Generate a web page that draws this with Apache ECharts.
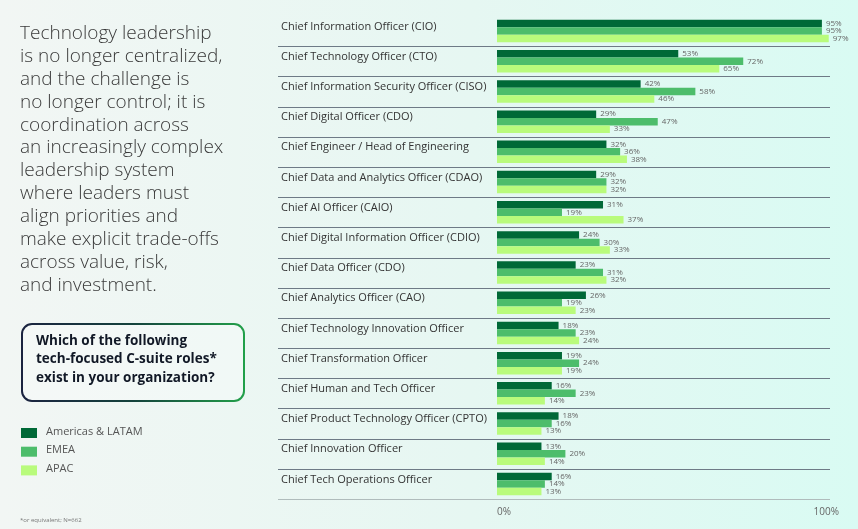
<!DOCTYPE html>
<html lang="en">
<head>
<meta charset="UTF-8">
<script src="https://cdn.jsdelivr.net/npm/echarts@6/dist/echarts.min.js"></script>
<title>Tech C-suite roles</title>
<style>
  html, body { margin: 0; padding: 0; }
  #main { width: 858px; height: 529px; }
</style>
</head>
<body>
<div id="main"></div>
<script>
var roles = [
  'Chief Information Officer (CIO)',
  'Chief Technology Officer (CTO)',
  'Chief Information Security Officer (CISO)',
  'Chief Digital Officer (CDO)',
  'Chief Engineer / Head of Engineering',
  'Chief Data and Analytics Officer (CDAO)',
  'Chief AI Officer (CAIO)',
  'Chief Digital Information Officer (CDIO)',
  'Chief Data Officer (CDO)',
  'Chief Analytics Officer (CAO)',
  'Chief Technology Innovation Officer',
  'Chief Transformation Officer',
  'Chief Human and Tech Officer',
  'Chief Product Technology Officer (CPTO)',
  'Chief Innovation Officer',
  'Chief Tech Operations Officer'
];
var americas = [95, 53, 42, 29, 32, 29, 31, 24, 23, 26, 18, 19, 16, 18, 13, 16];
var emea     = [95, 72, 58, 47, 36, 32, 19, 30, 31, 19, 23, 24, 23, 16, 20, 14];
var apac     = [97, 65, 46, 33, 38, 32, 37, 33, 32, 23, 24, 19, 14, 13, 14, 13];
var seriesNames = ['Americas & LATAM', 'EMEA', 'APAC'];
var colors = ['#006937', '#4dbd6b', '#b9fb7c'];

var introLines = [
  'Technology leadership', 'is no longer centralized,', 'and the challenge is',
  'no longer control; it is', 'coordination across', 'an increasingly complex',
  'leadership system', 'where leaders must', 'align priorities and',
  'make explicit trade-offs', 'across value, risk,', 'and investment.'
];

var chart = echarts.init(document.getElementById('main'));
var font = '"Open Sans", "Noto Sans", sans-serif';

function seriesOf(i, data) {
  return {
    name: seriesNames[i], type: 'bar', data: data,
    barWidth: 7.5, barGap: '0%',
    itemStyle: { color: colors[i] },
    label: { show: true, position: 'right', distance: 4, formatter: '{c}%',
      fontSize: 8, color: '#666', fontFamily: font }
  };
}

var graphics = [];
introLines.forEach(function (t, i) {
  graphics.push({ type: 'text', left: 20, top: 24 + i * 22.9,
    style: { text: t, fontSize: 19, fill: '#3a3a3a', fontFamily: font, fontWeight: 300 } });
});
graphics.push({ type: 'rect', left: 21, top: 323,
  shape: { width: 222, height: 77, r: 10 },
  style: { fill: 'rgba(255,255,255,0.25)', lineWidth: 2,
    stroke: new echarts.graphic.LinearGradient(0, 0, 1, 0, [
      { offset: 0, color: '#1b2340' }, { offset: 0.5, color: '#14423c' }, { offset: 1, color: '#22a04a' }]) } });
['Which of the following', 'tech-focused C-suite roles*', 'exist in your organization?'].forEach(function (t, i) {
  graphics.push({ type: 'text', left: 36, top: 334 + i * 18.5,
    style: { text: t, fontSize: 13.5, fontWeight: 'bold', fill: '#111826', fontFamily: font } });
});
seriesNames.forEach(function (n, i) {
  graphics.push({ type: 'rect', left: 21, top: 428 + i * 18.7, shape: { width: 16, height: 10 },
    style: { fill: colors[i] } });
  graphics.push({ type: 'text', left: 46, top: 426 + i * 18.7,
    style: { text: n, fontSize: 11, fill: '#555', fontFamily: font } });
});
graphics.push({ type: 'text', left: 20, top: 517,
  style: { text: '*or equivalent; N=662', fontSize: 6, fill: '#777', fontFamily: font } });

chart.setOption({
  backgroundColor: new echarts.graphic.LinearGradient(0, 0, 1, 0, [
    { offset: 0, color: '#f2f6f4' }, { offset: 0.55, color: '#e6f7f2' }, { offset: 1, color: '#d9fbf3' }]),
  textStyle: { fontFamily: font },
  animation: false,
  grid: { left: 497, right: 19, top: 16, bottom: 30 },
  xAxis: {
    type: 'value', min: 0, max: 100, interval: 100,
    axisLabel: { formatter: function (v) { return v + '%'; }, fontSize: 10, color: '#666',
      margin: 8, alignMinLabel: 'left', alignMaxLabel: 'right' },
    splitLine: { show: false }, axisLine: { show: false }, axisTick: { show: false }
  },
  yAxis: {
    type: 'category', data: roles, inverse: true,
    axisLabel: { show: false }, axisLine: { show: false }, axisTick: { show: false }
  },
  series: [seriesOf(0, americas), seriesOf(1, emea), seriesOf(2, apac)],
  graphic: graphics
});

// category labels and row separators positioned from the axis scale
var extra = [];
var step = chart.convertToPixel({ yAxisIndex: 0 }, 1) - chart.convertToPixel({ yAxisIndex: 0 }, 0);
roles.forEach(function (r, i) {
  var c = chart.convertToPixel({ yAxisIndex: 0 }, i);
  extra.push({ type: 'text', left: 281, top: c - 10,
    style: { text: r, fontSize: 11, fill: '#333', fontFamily: font } });
  var y = Math.round(c + step / 2) + 0.5;
  extra.push({ type: 'line', shape: { x1: 278, y1: y, x2: 830, y2: y },
    style: { stroke: i === roles.length - 1 ? '#b0bcbc' : '#6e7a86', lineWidth: 1 } });
});
chart.setOption({ graphic: graphics.concat(extra) });
</script>
</body>
</html>
